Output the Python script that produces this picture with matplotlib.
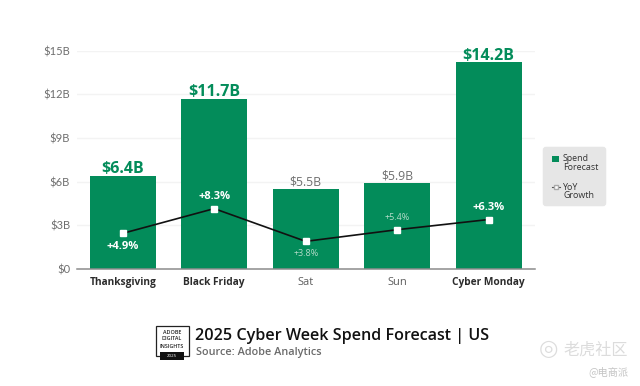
import matplotlib
matplotlib.use('Agg')
import matplotlib.pyplot as plt
from matplotlib.lines import Line2D
from matplotlib.patches import FancyBboxPatch, Rectangle

W, H = 640, 386

days = ['Thanksgiving', 'Black Friday', 'Sat', 'Sun', 'Cyber Monday']
spend = [6.4, 11.7, 5.5, 5.9, 14.2]
spend_labels = ['$6.4B', '$11.7B', '$5.5B', '$5.9B', '$14.2B']
yoy = [4.9, 8.3, 3.8, 5.4, 6.8]  # height of the marker as drawn
yoy_labels = ['+4.9%', '+8.3%', '+3.8%', '+5.4%', '+6.3%']
highlight = [True, True, False, False, True]
y_ticks = [0, 3, 6, 9, 12, 15]
y_tick_labels = ['$0', '$3B', '$6B', '$9B', '$12B', '$15B']

GREEN = '#038c5a'
GREY = '#6e6e6e'
DARK = '#2c2c2c'
CJK = ['Noto Sans CJK SC', 'DejaVu Sans']

plt.rcParams['font.family'] = ['Open Sans', 'DejaVu Sans']


def fx(px):
    return px / W


def fy(px):
    return 1 - px / H


fig = plt.figure(figsize=(W / 100, H / 100), dpi=100, facecolor='white')

# axes box in pixels of the reference
ax = fig.add_axes([fx(77), fy(269), 458 / W, 218.3 / H])
x = list(range(len(days)))
ax.set_axisbelow(True)
ax.bar(x, spend, width=0.72, color=GREEN, zorder=2)
ax.set_xlim(-0.5, 4.507)
ax.set_ylim(0, 15)
ax.set_yticks(y_ticks, y_tick_labels, fontsize=8, color=GREY, family=['Lato', 'DejaVu Sans'])
ax.set_xticks(x, days)
ax.tick_params(axis='both', length=0)
ax.tick_params(axis='y', pad=5)
ax.tick_params(axis='x', pad=6)
ax.grid(axis='y', color='#f3f3f3', lw=1)
for name in ['top', 'right', 'left']:
    ax.spines[name].set_visible(False)
ax.spines['bottom'].set_color('#8c8c8c')
ax.spines['bottom'].set_linewidth(1.1)

for lab, hi in zip(ax.get_xticklabels(), highlight):
    lab.set_fontweight('bold' if hi else 'normal')
    lab.set_fontsize(7.3 if hi else 8)
    lab.set_color(DARK if hi else '#5e5e5e')

for i, (v, s, hi) in enumerate(zip(spend, spend_labels, highlight)):
    if hi:
        ax.text(i, v - 0.1, s, ha='center', va='bottom', fontsize=11.5, fontweight='bold', color=GREEN)
    else:
        ax.text(i, v + 0.02, s, ha='center', va='bottom', fontsize=8.8, color=GREY)

# YoY growth on its own scale
ax2 = ax.twinx()
ax2.set_ylim(0, 30)
ax2.axis('off')
ax2.plot(x, yoy, color='#111111', lw=1.2, marker='s', ms=5, mfc='white', mec='white', zorder=4)

# label offsets in points: under the marker on the first and third bar, above on the others
offsets = [-9.5, 9, -8.5, 8.5, 8.5]
for i, (v, s, hi, off) in enumerate(zip(yoy, yoy_labels, highlight, offsets)):
    ax2.annotate(s, (i, v), xytext=(0, off), textcoords='offset points', ha='center', va='center',
                 fontsize=8 if hi else 6.4, fontweight='bold' if hi else 'normal',
                 color='white' if hi else '#b5dcca')

# legend box, handles sit on the first line of each entry
fig.add_artist(FancyBboxPatch((fx(546), fy(203)), 57 / W, 53 / H, transform=fig.transFigure,
                              boxstyle='round,pad=0.004', facecolor='#e6e6e6', edgecolor='#e6e6e6', lw=1,
                              mutation_aspect=W / H))
fig.add_artist(Rectangle((fx(552), fy(162.5)), 7 / W, 7 / H, transform=fig.transFigure,
                         facecolor=GREEN, edgecolor='none'))
fig.add_artist(Line2D([fx(552), fx(556), fx(560)], [fy(187)] * 3, transform=fig.transFigure,
                      color='#555555', lw=0.8, marker='s', ms=3.5, mfc='white', mec='#aaaaaa', markevery=[1]))
for yy, t in zip([163.5, 191.5], ['Spend\nForecast', 'YoY\nGrowth']):
    fig.text(fx(563), fy(yy), t, fontsize=6.4, color='#333333', ha='left', va='center', linespacing=1.0)

# title block
fig.text(fx(195), fy(335.5), '2025 Cyber Week Spend Forecast | US', fontsize=11.6, fontweight='semibold',
         color='#111111', va='center', ha='left')
fig.text(fx(196), fy(352.5), 'Source: Adobe Analytics', fontsize=7.8, fontweight='semibold',
         color='#6a6a6a', va='center', ha='left')

# report badge
fig.add_artist(Rectangle((fx(156), fy(356)), 33 / W, 30 / H, transform=fig.transFigure,
                         facecolor='white', edgecolor='#222222', lw=0.9))
fig.add_artist(Rectangle((fx(160), fy(360)), 24 / W, 8 / H, transform=fig.transFigure,
                         facecolor='#111111', edgecolor='#111111', lw=0))
for yy, t in zip([332, 339, 346], ['ADOBE', 'DIGITAL', 'INSIGHTS']):
    fig.text(fx(172), fy(yy), t, fontsize=3.9, fontweight='semibold', color='#222222', ha='center', va='center')
fig.text(fx(172), fy(356), '2025', fontsize=3.2, color='white', ha='center', va='center')

# watermark
fig.text(fx(628), fy(350), '老虎社区', fontsize=11.6, color='#dcdcdc', ha='right', va='center', family=CJK)
fig.text(fx(628), fy(372), '@电商派', fontsize=7.3, color='#c4c4c4', ha='right', va='center', family=CJK)
fig.text(fx(548), fy(349), '◎', fontsize=16, color='#dddddd', ha='center', va='center')

fig.savefig('out.png', dpi=100)
